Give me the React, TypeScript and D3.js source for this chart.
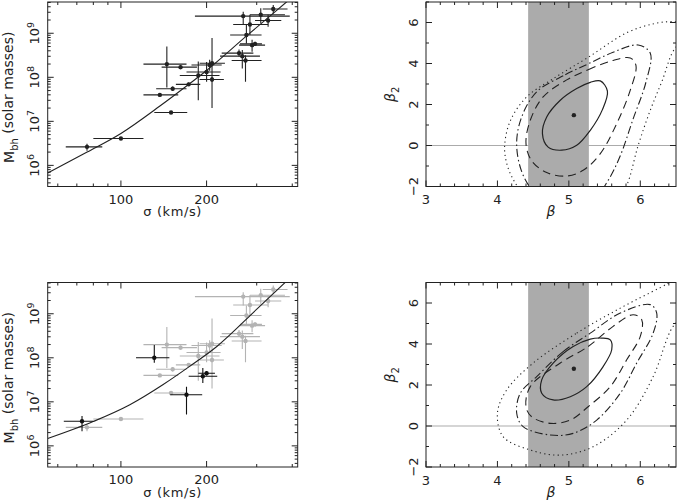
import React, { useEffect, useRef } from 'react';
import * as d3 from 'd3';

const W = 678;
const H = 503;
const PANEL_H = 184.5;
const ROW_TOP = [2, 282.5];
const LEFT_X: [number, number] = [47.7, 297.7];
const RIGHT_X: [number, number] = [426, 676];

// sigma (km/s): value, low, high ; log10 Mbh: value, low, high
const sample: number[][] = [
  [76, 64, 86, 6.42, 6.33, 6.49],
  [100, 80, 120, 6.61, 6.61, 6.61],
  [137, 120, 159, 7.6, 7.6, 7.6],
  [152, 133, 170, 7.74, 7.69, 7.79],
  [145, 120, 170, 8.3, 7.77, 8.7],
  [150, 131, 171, 7.2, 7.2, 7.2],
  [162, 139, 185, 8.23, 8.18, 8.28],
  [173, 156, 190, 7.84, 7.8, 7.88],
  [187, 161, 222, 8.04, 7.48, 8.36],
  [200, 170, 224, 8.12, 7.9, 8.35],
  [205, 177, 226, 8.28, 8.15, 8.4],
  [209, 189, 232, 8.32, 7.3, 8.89],
  [209, 189, 230, 7.95, 7.9, 8.0],
  [260, 226, 292, 8.55, 8.47, 8.63],
  [267, 223, 308, 8.48, 8.2, 8.62],
  [274, 245, 312, 8.38, 7.9, 8.5],
  [276, 242, 312, 8.96, 8.77, 9.19],
  [284, 248, 329, 9.2, 8.96, 9.42],
  [289, 260, 321, 8.73, 8.58, 8.85],
  [296, 262, 313, 8.76, 8.71, 8.81],
  [269, 182, 392, 9.39, 9.19, 9.49],
  [310, 284, 377, 9.42, 9.23, 9.57],
  [329, 296, 366, 9.29, 9.15, 9.42],
  [343, 315, 385, 9.55, 9.45, 9.64],
];

const newObjects: number[][] = [
  [73, 63, 80, 6.56, 6.33, 6.68],
  [131, 113, 148, 8.0, 7.89, 8.29],
  [170, 149, 193, 7.16, 6.71, 7.34],
  [194, 173, 218, 7.58, 7.43, 7.77],
  [200, 187, 214, 7.65, 7.6, 7.7],
];

const topCurveSigma = [55.3, 76.1, 100, 137.1, 173.7, 200, 276.4, 383.8];
const topCurveLogM = [5.825, 6.302, 6.725, 7.348, 7.848, 8.155, 8.939, 9.723];
const botCurveSigma = [55.3, 79.9, 107.5, 140.8, 174.8, 217.3, 299.6, 381.9];
const botCurveLogM = [6.166, 6.552, 6.934, 7.393, 7.81, 8.257, 9.098, 9.741];

const sigmaMajor = [100, 200];
const sigmaMinor = [60, 70, 80, 90, 300, 400];
const massDecades = [5, 6, 7, 8, 9];
const betaTicks = [3, 4, 5, 6];
const beta2Ticks = [-2, 0, 2, 4, 6];

const band = [4.43, 5.28];

// contours in (beta, beta2)
const topSolid = [[5.44, 3.15], [5.54, 2.65], [5.47, 1.75], [5.3, 0.74], [5.11, 0.01], [4.9, -0.23], [4.71, -0.08], [4.63, 0.58], [4.69, 1.39], [4.88, 2.21], [5.11, 2.78], [5.3, 3.08]];
const topDashed = [[4.97, 3.2], [5.27, 3.7], [5.62, 4.15], [5.86, 4.27], [5.94, 3.9], [5.86, 2.7], [5.67, 1.07], [5.44, -0.4], [5.2, -1.21], [4.97, -1.49], [4.69, -1.32], [4.48, -0.75], [4.4, 0.09], [4.46, 1.23], [4.64, 2.37]];
const topDashDot = [[4.55, 2.62], [4.95, 3.45], [5.28, 4.0], [5.62, 4.55], [5.97, 4.9], [6.14, 4.5], [6.08, 3.1], [5.9, 1.3], [5.72, -0.5], [5.55, -1.7], [5.35, -2.6], [5.0, -2.9], [4.62, -2.6], [4.38, -1.6], [4.27, -0.07], [4.33, 1.3]];
const topDotted = [[4.41, 2.37], [4.8, 3.3], [5.27, 4.3], [5.81, 5.5], [6.2, 5.95], [6.46, 6.04], [6.7, 5.9], [6.75, 5.3], [6.5, 4.8], [6.3, 3.1], [6.14, 1.72], [5.97, 0.0], [5.81, -1.95], [5.6, -3.2], [5.0, -3.6], [4.5, -3.0], [4.28, -2.0], [4.15, -1.1], [4.1, -0.1], [4.18, 1.2]];
const topBest = [5.07, 1.48];

const botSolid = [[5.46, 4.29], [5.58, 4.2], [5.6, 3.72], [5.48, 2.9], [5.25, 1.92], [5.02, 1.43], [4.78, 1.27], [4.62, 1.6], [4.62, 2.25], [4.78, 3.07], [5.06, 3.88], [5.3, 4.24]];
const botDashed = [[4.88, 3.07], [5.27, 3.88], [5.62, 4.86], [5.9, 5.43], [6.02, 5.18], [6.0, 4.37], [5.81, 3.23], [5.58, 1.92], [5.27, 0.94], [5.02, 0.29], [4.74, 0.13], [4.48, 0.45], [4.4, 0.94], [4.46, 1.92]];
const botDashDot = [[4.55, 2.41], [4.92, 3.63], [5.3, 4.53], [5.72, 5.51], [6.14, 5.92], [6.23, 5.51], [6.18, 4.53], [5.95, 3.07], [5.72, 1.6], [5.39, 0.29], [5.06, -0.36], [4.74, -0.44], [4.36, -0.03], [4.27, 0.62], [4.32, 1.6]];
const botDotted = [[4.5, 3.07], [5.11, 4.53], [5.72, 5.75], [6.27, 6.73], [6.5, 7.1], [6.75, 6.8], [6.7, 5.6], [6.46, 4.86], [6.18, 2.41], [5.81, 0.29], [5.34, -1.01], [4.88, -1.42], [4.46, -1.17], [4.08, -0.52], [4.0, 0.62], [4.13, 1.76]];
const botBest = [5.07, 2.79];

const INK = '#222';
const GREY = '#ababab';
const FONT = 'DejaVu Sans, sans-serif';

export default function App() {
  const ref = useRef<SVGSVGElement>(null);

  useEffect(() => {
    const svg = d3.select(ref.current);
    svg.selectAll('*').remove();

    const tick = (g: any, x1: number, y1: number, x2: number, y2: number) =>
      g.append('line').attr('x1', x1).attr('y1', y1).attr('x2', x2).attr('y2', y2)
        .attr('stroke', INK).attr('stroke-width', 1);

    const frame = (g: any, x0: number, x1: number, y0: number, y1: number) =>
      g.append('rect').attr('x', x0).attr('y', y0).attr('width', x1 - x0).attr('height', y1 - y0)
        .attr('fill', 'none').attr('stroke', INK).attr('stroke-width', 1);

    // ---------- M-sigma panels ----------
    const msigma = (row: number, curveS: number[], curveM: number[], grey: boolean) => {
      const top = ROW_TOP[row];
      const bot = top + PANEL_H;
      const g = svg.append('g');
      const x = d3.scaleLog().domain([55.3, 418]).range(LEFT_X);
      const y = d3.scaleLog().domain([Math.pow(10, 5.52), Math.pow(10, 9.71)]).range([bot, top]);
      const [x0, x1] = LEFT_X;

      const clipId = `clipL${row}`;
      svg.append('clipPath').attr('id', clipId).append('rect')
        .attr('x', x0).attr('y', top).attr('width', x1 - x0).attr('height', PANEL_H);
      const inner = g.append('g').attr('clip-path', `url(#${clipId})`);

      const drawPoints = (pts: number[][], color: string) => {
        pts.forEach(p => {
          const cx = x(p[0]);
          const cy = y(Math.pow(10, p[3]));
          inner.append('line').attr('x1', x(p[1])).attr('x2', x(p[2])).attr('y1', cy).attr('y2', cy)
            .attr('stroke', color).attr('stroke-width', 1.1);
          if (p[5] > p[4]) {
            inner.append('line').attr('x1', cx).attr('x2', cx)
              .attr('y1', y(Math.pow(10, p[4]))).attr('y2', y(Math.pow(10, p[5])))
              .attr('stroke', color).attr('stroke-width', 1.1);
          }
          inner.append('circle').attr('cx', cx).attr('cy', cy).attr('r', 2.2).attr('fill', color);
        });
      };

      if (grey) drawPoints(sample, '#b3b3b3');
      else drawPoints(sample, INK);

      const line = d3.line<number>()
        .x((_, i) => x(curveS[i]))
        .y((d) => y(Math.pow(10, d)))
        .curve(d3.curveMonotoneX);
      inner.append('path').attr('d', line(curveM)).attr('fill', 'none')
        .attr('stroke', INK).attr('stroke-width', 1.1);

      if (grey) drawPoints(newObjects, '#111');

      frame(g, x0, x1, top, bot);
      sigmaMajor.concat(sigmaMinor).forEach(v => {
        const len = sigmaMajor.includes(v) ? 6 : 3;
        tick(g, x(v), bot, x(v), bot - len);
        tick(g, x(v), top, x(v), top + len);
      });
      massDecades.forEach(d => {
        for (let k = 1; k <= 9; k++) {
          const v = k * Math.pow(10, d);
          const py = y(v);
          if (py < top || py > bot) continue;
          const len = k === 1 ? 6 : 3;
          tick(g, x0, py, x0 + len, py);
          tick(g, x1, py, x1 - len, py);
        }
      });

      sigmaMajor.forEach(v => {
        g.append('text').attr('x', x(v)).attr('y', bot + 17).attr('text-anchor', 'middle')
          .attr('font-family', FONT).attr('font-size', 13).attr('fill', INK).text(v);
      });
      g.append('text').attr('x', (x0 + x1) / 2).attr('y', bot + 29.5).attr('text-anchor', 'middle')
        .attr('font-family', FONT).attr('font-size', 13).attr('fill', INK)
        .attr('letter-spacing', 0.6).text('σ (km/s)');

      massDecades.forEach(d => {
        const py = y(Math.pow(10, d));
        if (py < top || py > bot) return;
        const t = g.append('text').attr('transform', `translate(38.5,${py}) rotate(-90)`)
          .attr('text-anchor', 'middle').attr('font-family', FONT).attr('font-size', 13).attr('fill', INK);
        t.append('tspan').text('10');
        t.append('tspan').attr('dy', '-0.5em').attr('font-size', 9.5).text(d);
      });

      const yl = g.append('text').attr('transform', `translate(14,${(top + bot) / 2 + 3}) rotate(-90)`)
        .attr('text-anchor', 'middle').attr('font-family', FONT).attr('font-size', 14).attr('fill', INK);
      yl.append('tspan').text('M');
      yl.append('tspan').attr('dy', '0.35em').attr('font-size', 10).text('bh');
      yl.append('tspan').attr('dy', '-0.35em').text(' (solar masses)');
    };

    // ---------- beta - beta2 panels ----------
    const confidence = (row: number, contours: number[][][], best: number[]) => {
      const top = ROW_TOP[row];
      const bot = top + PANEL_H;
      const [x0, x1] = RIGHT_X;
      const g = svg.append('g');
      const x = d3.scaleLinear().domain([3, 6.5]).range(RIGHT_X);
      const y = d3.scaleLinear().domain([-2, 7]).range([bot, top]);

      const clipId = `clipR${row}`;
      svg.append('clipPath').attr('id', clipId).append('rect')
        .attr('x', x0).attr('y', top).attr('width', x1 - x0).attr('height', PANEL_H);
      const inner = g.append('g').attr('clip-path', `url(#${clipId})`);

      inner.append('line').attr('x1', x0).attr('x2', x1).attr('y1', y(0)).attr('y2', y(0))
        .attr('stroke', GREY).attr('stroke-width', 1);
      inner.append('rect').attr('x', x(band[0])).attr('y', top).attr('width', x(band[1]) - x(band[0]))
        .attr('height', PANEL_H).attr('fill', GREY);

      const styles = [
        { dash: null, w: 1.2 },
        { dash: '8,5', w: 1.1 },
        { dash: '8,3,1.5,3', w: 1.1 },
        { dash: '1.2,3.3', w: 1.1 },
      ];
      const line = d3.line<number[]>().x(d => x(d[0])).y(d => y(d[1]))
        .curve(d3.curveCatmullRomClosed.alpha(0.5));
      contours.forEach((c, i) => {
        const p = inner.append('path').attr('d', line(c)).attr('fill', 'none')
          .attr('stroke', INK).attr('stroke-width', styles[i].w);
        if (styles[i].dash) p.attr('stroke-dasharray', styles[i].dash);
      });
      inner.append('circle').attr('cx', x(best[0])).attr('cy', y(best[1])).attr('r', 2.2).attr('fill', INK);

      frame(g, x0, x1, top, bot);
      for (let i = 0; i <= 17; i++) {
        const v = 3 + i * 0.2;
        const len = Math.abs(v - Math.round(v)) < 1e-6 ? 6 : 3;
        tick(g, x(v), bot, x(v), bot - len);
        tick(g, x(v), top, x(v), top + len);
      }
      for (let v = -2; v <= 7; v++) {
        const len = v % 2 === 0 ? 6 : 3;
        tick(g, x0, y(v), x0 + len, y(v));
        tick(g, x1, y(v), x1 - len, y(v));
      }

      betaTicks.forEach(v => {
        g.append('text').attr('x', x(v)).attr('y', bot + 17.5).attr('text-anchor', 'middle')
          .attr('font-family', FONT).attr('font-size', 13).attr('fill', INK).text(v);
      });
      g.append('text').attr('x', (x0 + x1) / 2).attr('y', bot + 29.5).attr('text-anchor', 'middle')
        .attr('font-family', FONT).attr('font-size', 14).attr('font-style', 'italic').attr('fill', INK).text('β');

      beta2Ticks.forEach(v => {
        g.append('text').attr('transform', `translate(418,${y(v)}) rotate(-90)`)
          .attr('text-anchor', 'middle').attr('font-family', FONT).attr('font-size', 13).attr('fill', INK)
          .text(v < 0 ? `−${-v}` : `${v}`);
      });
      const yl = g.append('text').attr('transform', `translate(395,${(top + bot) / 2}) rotate(-90)`)
        .attr('text-anchor', 'middle').attr('font-family', FONT).attr('font-size', 14).attr('fill', INK);
      yl.append('tspan').attr('font-style', 'italic').text('β');
      yl.append('tspan').attr('dy', '0.35em').attr('font-size', 10).text('2');
    };

    msigma(0, topCurveSigma, topCurveLogM, false);
    msigma(1, botCurveSigma, botCurveLogM, true);
    confidence(0, [topSolid, topDashed, topDashDot, topDotted], topBest);
    confidence(1, [botSolid, botDashed, botDashDot, botDotted], botBest);
  }, []);

  return (
    <svg ref={ref} width={W} height={H}
      style={{ position: 'absolute', left: 0, top: 0, background: '#fff' }} />
  );
}
